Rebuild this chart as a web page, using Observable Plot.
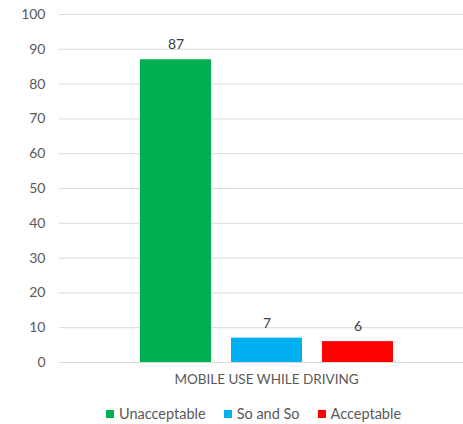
<!DOCTYPE html>
<html><head><meta charset="utf-8">
<script src="https://cdn.jsdelivr.net/npm/d3@7"></script>
<script src="https://cdn.jsdelivr.net/npm/@observablehq/plot@0.6"></script>
<style>
body{margin:0;background:#fff;font-family:Lato,sans-serif;}
#legend{display:flex;justify-content:flex-start;align-items:center;height:29px;width:463px;box-sizing:border-box;padding-left:106px;padding-top:8px;font-size:14.5px;color:#595959;}
#legend .item{display:flex;align-items:center;margin-right:18px;}
#legend .sw{width:8px;height:8px;margin-right:5px;}
</style></head><body><div id="chart"></div><div id="legend"></div>
<script>
const category = "MOBILE USE WHILE DRIVING";
const series = ["Unacceptable", "So and So", "Acceptable"];
const values = [87, 7, 6];
const colors = ["#00b050", "#00b0f0", "#ff0000"];
const yTicks = [0, 10, 20, 30, 40, 50, 60, 70, 80, 90, 100];

const data = series.map((s, i) => ({series: s, value: values[i]}));

const chart = Plot.plot({
  width: 463, height: 395,
  marginLeft: 59, marginRight: 0, marginTop: 14, marginBottom: 33,
  style: {fontFamily: "Lato, sans-serif", fontSize: "14px", color: "#595959", background: "#fff"},
  x: {domain: series, range: [139, 394], paddingInner: 0.22, paddingOuter: 0, axis: null},
  y: {domain: [0, 100], ticks: yTicks},
  color: {domain: series, range: colors},
  marks: [
    Plot.ruleY(yTicks, {stroke: "#d9d9d9", strokeWidth: 1}),
    Plot.axisY(yTicks, {tickSize: 0, tickPadding: 14, label: null, fill: "#595959", fontSize: 14}),
    Plot.barY(data, {x: "series", y: "value", fill: "series"}),
    Plot.text(data, {x: "series", y: "value", text: d => String(d.value), dy: -15, fill: "#404040", fontSize: 14}),
    Plot.text([category], {frameAnchor: "bottom", dx: 5, dy: 21, text: d => d, fill: "#595959", fontSize: 13.5})
  ]
});
document.getElementById("chart").appendChild(chart);

const legend = document.getElementById("legend");
series.forEach((s, i) => {
  const item = document.createElement("div");
  item.className = "item";
  const sw = document.createElement("span");
  sw.className = "sw";
  sw.style.background = colors[i];
  const label = document.createElement("span");
  label.textContent = s;
  item.appendChild(sw);
  item.appendChild(label);
  legend.appendChild(item);
});
</script></body></html>
